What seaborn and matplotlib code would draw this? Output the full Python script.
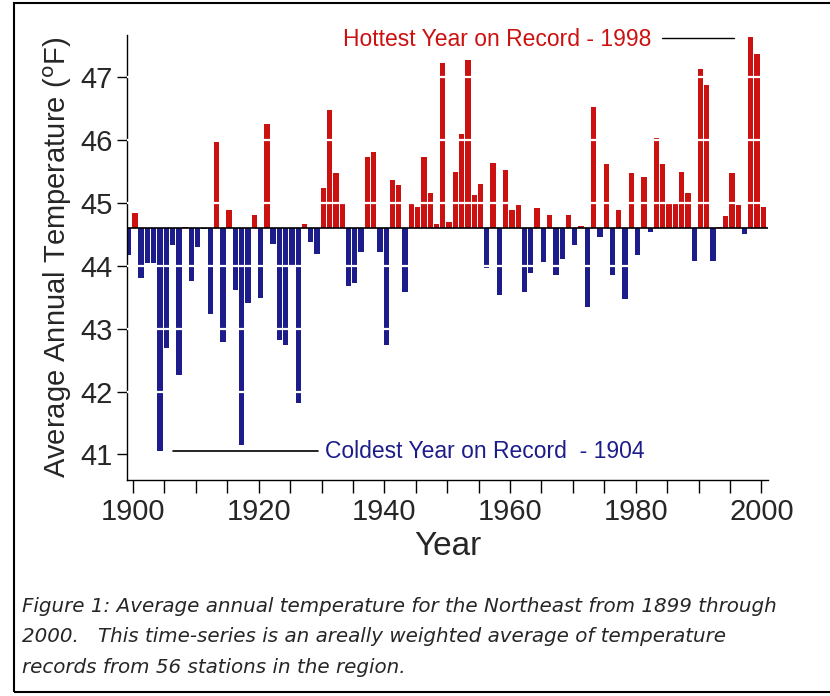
import numpy as np
import matplotlib
matplotlib.use("Agg")
import matplotlib.pyplot as plt
import seaborn as sns
from matplotlib.patches import Rectangle

# annual mean temperature, 1899-2000 (deg F)
years = list(range(1899, 2001))
temps = [44.17, 44.84, 43.80, 44.05, 44.05, 41.06, 42.69, 44.33, 42.26, 44.62,
         43.76, 44.29, 44.58, 43.23, 45.97, 42.79, 44.88, 43.61, 41.15, 43.40,
         44.81, 43.48, 46.26, 44.35, 42.82, 42.74, 44.00, 41.81, 44.67, 44.38,
         44.19, 45.23, 46.47, 45.47, 44.98, 43.67, 43.72, 44.22, 45.73, 45.81,
         44.22, 42.74, 45.36, 45.29, 43.58, 44.98, 44.94, 45.72, 45.16, 44.67,
         47.22, 44.70, 45.49, 46.10, 47.27, 45.12, 45.30, 43.96, 45.63, 43.54,
         45.52, 44.88, 44.96, 43.58, 43.88, 44.91, 44.06, 44.81, 43.85, 44.11,
         44.81, 44.33, 44.63, 43.35, 46.53, 44.46, 45.61, 43.85, 44.88, 43.47,
         45.47, 44.17, 45.41, 44.53, 46.03, 45.61, 44.98, 44.98, 45.49, 45.15,
         44.08, 47.13, 46.88, 44.08, 44.62, 44.79, 45.47, 44.96, 44.51, 47.63,
         47.36, 44.94]
baseline = 44.6
red = "#cc1111"
navy = "#1c1c8a"

sns.set_theme(style="white")
plt.rcParams['font.family'] = ['Liberation Sans', 'DejaVu Sans']

fig = plt.figure(figsize=(8.3, 6.96), dpi=100)
ax = fig.add_axes([0.153, 0.31, 0.772, 0.64])

df_x = np.array(years) + 0.3
vals = np.array(temps)
colors = [red if v >= baseline else navy for v in vals]
ax.bar(df_x, vals - baseline, bottom=baseline, width=0.85, color=colors,
       edgecolor="none", zorder=2)
for g in [42, 43, 44, 45, 46, 47]:
    ax.axhline(g, color="white", lw=1.6, zorder=3)
ax.axhline(baseline, color="black", lw=1.2, zorder=4)

ax.set_xlim(1899.05, 2001.0)
ax.set_ylim(40.59, 47.67)
ax.set_xticks(range(1900, 2001, 20))
ax.set_xticks(range(1900, 2001, 5), minor=True)
ax.set_yticks(range(41, 48))
ax.tick_params(axis="both", which="both", direction="out", length=7,
               width=1, color="black", left=True, bottom=True, labelsize=21)
ax.tick_params(axis="x", which="both", length=9)
for s in ["top", "right"]:
    ax.spines[s].set_visible(False)
for s in ["left", "bottom"]:
    ax.spines[s].set_color("black")
    ax.spines[s].set_linewidth(1)
ax.set_xlabel("Year", fontsize=24, labelpad=4)
ax.set_ylabel("Average Annual Temperature ($^{\\rm o}$F)", fontsize=21, labelpad=4)

ax.text(1933.4, 47.59, "Hottest Year on Record - 1998", color=red,
        fontsize=16.5, va="center")
ax.plot([1984.1, 1995.7], [47.62, 47.62], color="black", lw=1)
ax.text(1930.5, 41.05, "Coldest Year on Record  - 1904", color=navy,
        fontsize=16.5, va="center")
ax.plot([1906.4, 1929.4], [41.05, 41.05], color="black", lw=1.2)

caption = ("Figure 1: Average annual temperature for the Northeast from 1899 through\n"
           "2000.   This time-series is an areally weighted average of temperature\n"
           "records from 56 stations in the region.")
fig.text(0.027, 0.085, caption, fontsize=14.3, style="italic", va="center",
         family=["DejaVu Sans"], linespacing=1.75)

fig.patches.append(Rectangle((0.017, 0.006), 1.2, 0.99, transform=fig.transFigure,
                             fill=False, edgecolor="black", lw=1.5))
fig.savefig("out.png", dpi=100)
